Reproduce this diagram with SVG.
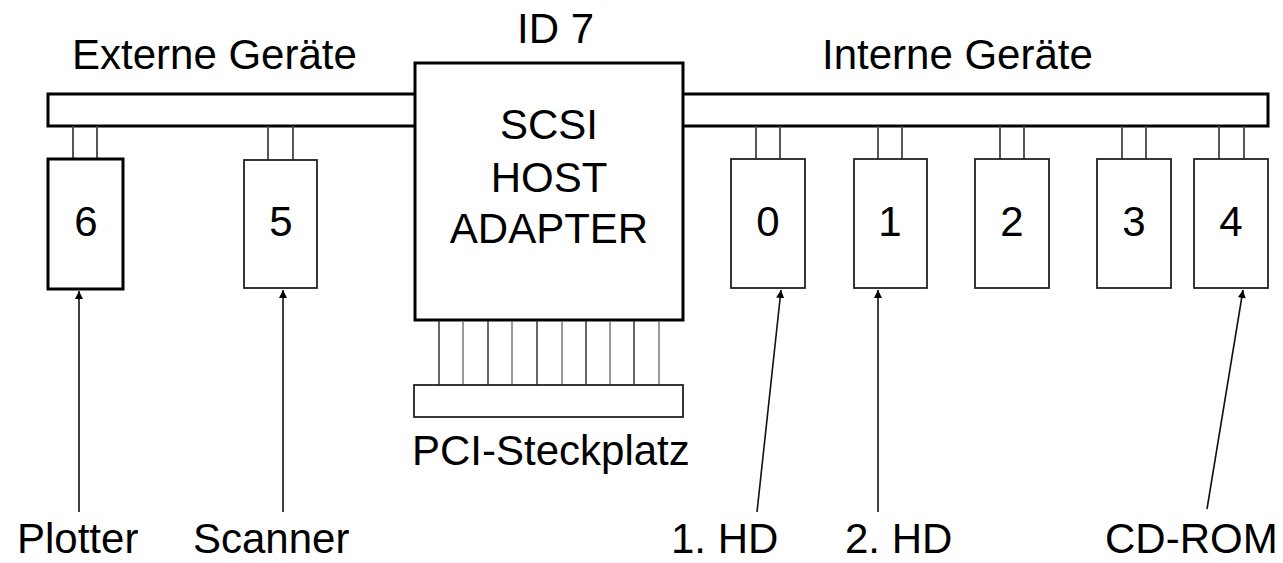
<svg xmlns="http://www.w3.org/2000/svg" width="1283" height="563" viewBox="0 0 1283 563">
  <style>
    text { font-family: "Liberation Sans", Arial, sans-serif; font-size: 42px; fill: #000; }
    .c { text-anchor: middle; }
    .bus { fill: #fff; stroke: #000; stroke-width: 3; }
    .dev { fill: #fff; stroke: #222; stroke-width: 1.8; }
    .dev6 { fill: #fff; stroke: #000; stroke-width: 3; }
    .stub { stroke: #444; stroke-width: 1.8; fill: none; }
    .pin { stroke: #333; stroke-width: 1.5; fill: none; }
    .pin2 { stroke: #777; stroke-width: 1.5; fill: none; }
    .arrow { stroke: #111; stroke-width: 1.6; fill: none; marker-end: url(#ah); }
  </style>
  <defs>
    <marker id="ah" viewBox="0 0 10 10" refX="10" refY="5" markerWidth="8" markerHeight="8" markerUnits="userSpaceOnUse" orient="auto">
      <path d="M0,0 L10,5 L0,10 z" fill="#000"/>
    </marker>
  </defs>
  <rect width="1283" height="563" fill="#fff"/>

  <g id="bus">
    <rect class="bus" x="48" y="94" width="1220" height="32"/>
  </g>

  <g id="labels">
    <text x="72" y="69">Externe Geräte</text>
    <text x="822" y="69">Interne Geräte</text>
  </g>

  <g id="host">
    <text x="517" y="43">ID 7</text>
    <rect x="415" y="63" width="268" height="257" fill="#fff" stroke="#000" stroke-width="3"/>
    <text class="c" x="549" y="139">SCSI</text>
    <text class="c" x="549" y="192">HOST</text>
    <text class="c" x="549" y="243">ADAPTER</text>
  </g>

  <g id="pci-slot">
    <line class="pin" x1="439" y1="321" x2="439" y2="385"/>
    <line class="pin2" x1="463" y1="321" x2="463" y2="385"/>
    <line class="pin" x1="488" y1="321" x2="488" y2="385"/>
    <line class="pin2" x1="512" y1="321" x2="512" y2="385"/>
    <line class="pin" x1="537" y1="321" x2="537" y2="385"/>
    <line class="pin2" x1="562" y1="321" x2="562" y2="385"/>
    <line class="pin" x1="586" y1="321" x2="586" y2="385"/>
    <line class="pin2" x1="610" y1="321" x2="610" y2="385"/>
    <line class="pin" x1="634" y1="321" x2="634" y2="385"/>
    <line class="pin2" x1="659" y1="321" x2="659" y2="385"/>
    <rect x="414" y="385" width="269" height="32" fill="#fff" stroke="#222" stroke-width="1.8"/>
    <text x="412" y="465">PCI-Steckplatz</text>
  </g>

  <g id="dev6">
    <line class="stub" x1="73" y1="126" x2="73" y2="159"/>
    <line class="stub" x1="97" y1="126" x2="97" y2="159"/>
    <rect class="dev6" x="48" y="159" width="75" height="130"/>
    <text class="c" x="86" y="236">6</text>
  </g>
  <g id="dev5">
    <line class="stub" x1="268" y1="126" x2="268" y2="160"/>
    <line class="stub" x1="293" y1="126" x2="293" y2="160"/>
    <rect class="dev" x="244" y="160" width="73" height="128"/>
    <text class="c" x="281" y="236">5</text>
  </g>
  <g id="dev0">
    <line class="stub" x1="756" y1="126" x2="756" y2="159"/>
    <line class="stub" x1="780" y1="126" x2="780" y2="159"/>
    <rect class="dev" x="731" y="159" width="74" height="129"/>
    <text class="c" x="768" y="236">0</text>
  </g>
  <g id="dev1">
    <line class="stub" x1="878" y1="126" x2="878" y2="159"/>
    <line class="stub" x1="902" y1="126" x2="902" y2="159"/>
    <rect class="dev" x="854" y="159" width="73" height="129"/>
    <text class="c" x="890" y="236">1</text>
  </g>
  <g id="dev2">
    <line class="stub" x1="1000" y1="126" x2="1000" y2="159"/>
    <line class="stub" x1="1024" y1="126" x2="1024" y2="159"/>
    <rect class="dev" x="975" y="159" width="74" height="129"/>
    <text class="c" x="1012" y="236">2</text>
  </g>
  <g id="dev3">
    <line class="stub" x1="1122" y1="126" x2="1122" y2="159"/>
    <line class="stub" x1="1146" y1="126" x2="1146" y2="159"/>
    <rect class="dev" x="1097" y="159" width="74" height="129"/>
    <text class="c" x="1134" y="236">3</text>
  </g>
  <g id="dev4">
    <line class="stub" x1="1219" y1="126" x2="1219" y2="159"/>
    <line class="stub" x1="1244" y1="126" x2="1244" y2="159"/>
    <rect class="dev" x="1194" y="159" width="74" height="129"/>
    <text class="c" x="1231" y="236">4</text>
  </g>

  <g id="connectors">
    <line class="arrow" x1="79" y1="512" x2="79" y2="291"/>
    <line class="arrow" x1="283" y1="512" x2="283" y2="290"/>
    <line class="arrow" x1="757" y1="512" x2="781" y2="290"/>
    <line class="arrow" x1="878" y1="512" x2="878" y2="290"/>
    <line class="arrow" x1="1207" y1="509" x2="1243" y2="290"/>
  </g>

  <g id="device-labels">
    <text x="17" y="553">Plotter</text>
    <text x="193" y="553">Scanner</text>
    <text x="671" y="553">1. HD</text>
    <text x="845" y="553">2. HD</text>
    <text x="1105" y="553">CD-ROM</text>
  </g>
</svg>
